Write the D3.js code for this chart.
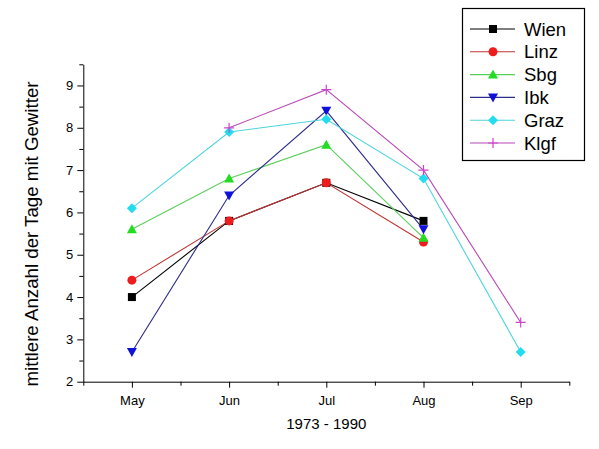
<!DOCTYPE html>
<html>
<head>
<meta charset="utf-8">
<script src="https://cdn.jsdelivr.net/npm/d3@7"></script>
<style>
  body { margin: 0; background: #fff; }
  text { font-family: "Liberation Sans", Arial, sans-serif; fill: #000; }
  .tick text { font-size: 13px; }
  .axis path, .axis line { stroke: #000; }
</style>
</head>
<body>
<svg id="chart"></svg>
<script>
// months on the x axis (5 = May ... 9 = Sep)
const months = [5, 6, 7, 8, 9];
const monthLabels = ["May", "Jun", "Jul", "Aug", "Sep"];

const stations = ["Wien", "Linz", "Sbg", "Ibk", "Graz", "Klgf"];

// mean number of days with thunderstorms, null = no value
const wien = [4.0, 5.8, 6.7, 5.8, null];
const linz = [4.4, 5.8, 6.7, 5.3, null];
const sbg  = [5.6, 6.8, 7.6, 5.4, null];
const ibk  = [2.7, 6.4, 8.4, 5.6, null];
const graz = [6.1, 7.9, 8.2, 6.8, 2.7];
const klgf = [null, 8.0, 8.9, 7.0, 3.4];

const yTicks = [2, 3, 4, 5, 6, 7, 8, 9];

const seriesValues = [wien, linz, sbg, ibk, graz, klgf];
const lineColors = ["#000000", "#c03434", "#5ad05a", "#2c2c8c", "#4cd4dc", "#b848b8"];
const markColors = ["#000000", "#ee1c1c", "#22dd22", "#1010dd", "#22ddee", "#cc44cc"];
const markTypes = ["square", "circle", "up", "down", "diamond", "plus"];

const svg = d3.select("#chart").attr("width", 599).attr("height", 449);

const margin = {top: 64.3, right: 30, bottom: 67.3, left: 83.3};
const width = 569.3 - margin.left;
const height = 381.7 - margin.top;

const x = d3.scaleLinear().domain([4.5, 9.5]).range([0, width]);
const y = d3.scaleLinear().domain([2, 9.5]).range([height, 0]);

const g = svg.append("g").attr("transform", `translate(${margin.left},${margin.top})`);

// x axis: major ticks on months, minor between
const xAxis = d3.axisBottom(x).tickValues(months).tickSize(6).tickSizeOuter(0)
    .tickFormat((d, i) => monthLabels[i]);
const gx = g.append("g").attr("class", "axis").attr("transform", `translate(0,${height})`).call(xAxis);
gx.selectAll(".tick text").attr("y", 23).attr("dy", 0);
g.append("g").attr("class", "axis").attr("transform", `translate(0,${height})`)
    .call(d3.axisBottom(x).tickValues([4.5, 5.5, 6.5, 7.5, 8.5, 9.5]).tickSize(4).tickFormat(""))
    .select(".domain").remove();

// y axis
const gy = g.append("g").attr("class", "axis")
    .call(d3.axisLeft(y).tickValues(yTicks).tickSize(6).tickSizeOuter(0).tickFormat(d3.format("d")));
gy.selectAll(".tick text").attr("x", -10);
g.append("g").attr("class", "axis")
    .call(d3.axisLeft(y).tickValues([2.5, 3.5, 4.5, 5.5, 6.5, 7.5, 8.5, 9.5]).tickSize(4).tickFormat(""))
    .select(".domain").remove();

// axis titles
svg.append("text")
    .attr("x", margin.left + x(7)).attr("y", 429)
    .attr("text-anchor", "middle").style("font-size", "15px")
    .text("1973 - 1990");
svg.append("text")
    .attr("transform", `translate(38,234) rotate(-90)`)
    .attr("text-anchor", "middle").style("font-size", "18.7px")
    .text("mittlere Anzahl der Tage mit Gewitter");

function drawMarker(sel, type, color) {
    if (type === "square") {
        sel.append("rect").attr("x", -4).attr("y", -4).attr("width", 8).attr("height", 8).attr("fill", color);
    } else if (type === "circle") {
        sel.append("circle").attr("r", 4.5).attr("fill", color);
    } else if (type === "up") {
        sel.append("path").attr("d", "M0,-5L5,4L-5,4Z").attr("fill", color);
    } else if (type === "down") {
        sel.append("path").attr("d", "M0,5L5,-4L-5,-4Z").attr("fill", color);
    } else if (type === "diamond") {
        sel.append("path").attr("d", "M0,-5L5,0L0,5L-5,0Z").attr("fill", color);
    } else if (type === "plus") {
        sel.append("path").attr("d", "M-5,0H5M0,-5V5").attr("stroke", color).attr("stroke-width", 1.2);
    }
}

const line = d3.line()
    .defined(d => d.v != null)
    .x(d => x(d.m))
    .y(d => y(d.v));

seriesValues.forEach((vals, i) => {
    const pts = months.map((m, j) => ({m: m, v: vals[j]}));
    g.append("path")
        .datum(pts)
        .attr("fill", "none")
        .attr("stroke", lineColors[i])
        .attr("stroke-width", 1.1)
        .attr("d", line);
});

seriesValues.forEach((vals, i) => {
    months.forEach((m, j) => {
        if (vals[j] == null) return;
        const mk = g.append("g").attr("transform", `translate(${x(m)},${y(vals[j])})`);
        drawMarker(mk, markTypes[i], markColors[i]);
    });
});

// legend
const lg = svg.append("g");
lg.append("rect")
    .attr("x", 462.5).attr("y", 8.5).attr("width", 122).attr("height", 152)
    .attr("fill", "#fff").attr("stroke", "#000").attr("stroke-width", 1.2);
stations.forEach((name, i) => {
    const cy = 29 + i * 22.8;
    lg.append("line")
        .attr("x1", 470).attr("x2", 515).attr("y1", cy).attr("y2", cy)
        .attr("stroke", lineColors[i]).attr("stroke-width", 1.1);
    drawMarker(lg.append("g").attr("transform", `translate(493,${cy})`), markTypes[i], markColors[i]);
    lg.append("text")
        .attr("x", 524).attr("y", cy + 6.5)
        .style("font-size", "18.5px")
        .text(name);
});
</script>
</body>
</html>
